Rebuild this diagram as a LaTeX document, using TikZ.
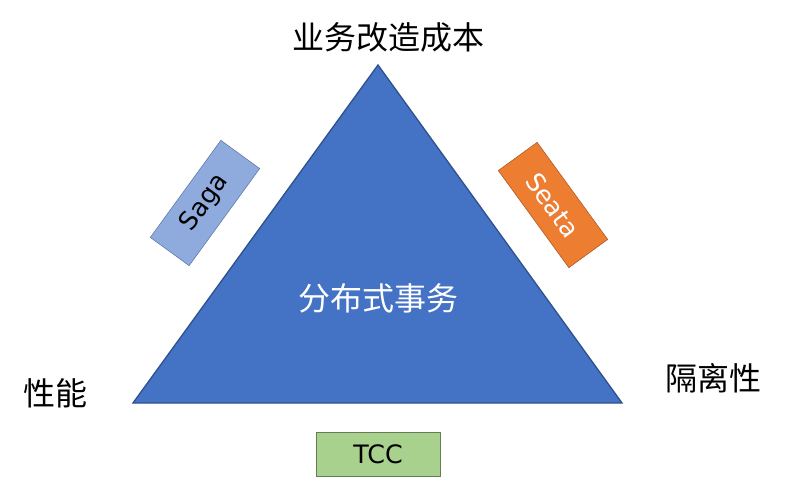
\documentclass[tikz,border=0pt]{standalone}
\usepackage{fontspec}
\setmainfont{Noto Sans CJK SC}
\newfontfamily\latinfont{DejaVu Sans}
\definecolor{triblue}{HTML}{4472C4}
\definecolor{triedge}{HTML}{2F528F}
\definecolor{sagafill}{HTML}{8FAADC}
\definecolor{seatafill}{HTML}{ED7D31}
\definecolor{tccfill}{HTML}{A9D18E}
\tikzset{
  tag/.style={draw, minimum width=90pt, minimum height=36pt, inner sep=0pt, font=\latinfont\fontsize{19}{19}\selectfont},
  corner/.style={font=\fontsize{24}{24}\selectfont}
}
\begin{document}
\begin{tikzpicture}[x=0.75pt, y=-0.75pt]
 \useasboundingbox (0,0) rectangle (804,496);
 \coordinate (top) at (378,65);
 \coordinate (left) at (133,403);
 \coordinate (right) at (622,403);
 \draw[triedge, fill=triblue, line width=1pt] (top)--(left)--(right)--cycle;
 \node (core) at (378,298) [text=white, font=\fontsize{24}{24}\selectfont]{分布式事务};
 \node (cost) at (388,37) [corner]{业务改造成本};
 \node (perf) at (55,393) [corner]{性能};
 \node (iso) at (713,378) [corner]{隔离性};
 \node (saga) at (205,203) [tag, rotate=54, fill=sagafill, draw=triedge!80]{Saga};
 \node (seata) at (553,205) [tag, rotate=-54, fill=seatafill, draw=seatafill!70!black, text=white]{Seata};
 \node (tcc) at (378,454) [tag, minimum width=93pt, minimum height=33pt, fill=tccfill, draw=tccfill!60!black]{TCC};
\end{tikzpicture}
\end{document}
